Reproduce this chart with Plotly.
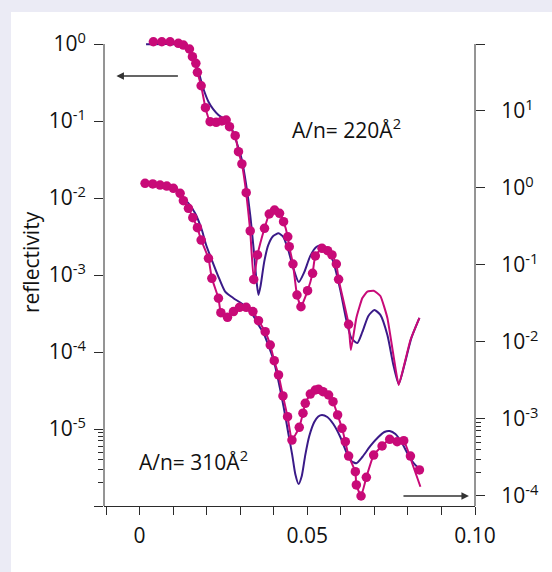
import plotly.graph_objects as go

# ---- measured reflectivity, A/n = 220 A^2 (left axis) ----
top_q = [0.00412, 0.00663, 0.00910, 0.01158, 0.01307, 0.01487, 0.01576, 0.01678, 0.01725, 0.01836,
         0.01964, 0.02104, 0.02284, 0.02454, 0.02582, 0.02681, 0.02851, 0.02949, 0.03051, 0.03179,
         0.03299, 0.03403, 0.03516, 0.03725, 0.03866, 0.04024, 0.04173, 0.04293, 0.04418, 0.04463,
         0.04573, 0.04693, 0.04812, 0.05009, 0.05158, 0.05239, 0.05439, 0.05606, 0.05737, 0.05866,
         0.05934, 0.06233]
top_r = [1.07, 1.07, 1.07, 1.02, 0.97, 0.861, 0.684, 0.561, 0.429, 0.287,
         0.149, 0.098, 0.0962, 0.100, 0.103, 0.0843, 0.0644, 0.0399, 0.0277, 0.01173,
         0.00373, 0.000875, 0.00182, 0.00404, 0.00620, 0.00698, 0.00633, 0.00492, 0.00314, 0.00233,
         0.00139, 0.000550, 0.000387, 0.000625, 0.00105, 0.00177, 0.00222, 0.00207, 0.00182, 0.00139,
         0.000879, 0.000229]

# fitted model (magenta line), 220 A^2
top_fit_q = top_q + [0.06299, 0.06463, 0.06642, 0.06791, 0.06979, 0.07179, 0.07388, 0.07567,
                     0.07725, 0.07866, 0.08075, 0.08343]
top_fit_r = top_r + [1.06e-4, 2.77e-4, 5.02e-4, 6.1e-4, 6.25e-4, 5.33e-4, 2.77e-4, 9.14e-5,
                     3.73e-5, 6.19e-5, 1.43e-4, 2.77e-4]

# reference model (dark blue line), 220 A^2
top_model_q = [0.00194, 0.0106, 0.01269, 0.01448, 0.01597, 0.01746, 0.01896, 0.02054, 0.02194, 0.02352,
               0.02522, 0.02701, 0.02901, 0.03051, 0.03179, 0.03299, 0.03418, 0.03493, 0.03546, 0.03612,
               0.03716, 0.03836, 0.03985, 0.04143, 0.04284, 0.04433, 0.04582, 0.04746, 0.04910, 0.05090,
               0.05269, 0.05433, 0.05597, 0.05776, 0.05985, 0.06164, 0.06313, 0.06493, 0.06642, 0.06821,
               0.07000, 0.07179, 0.07388, 0.07567, 0.07725, 0.07896, 0.08104, 0.08343]
top_model_r = [0.99, 0.99, 0.94, 0.836, 0.678, 0.459, 0.268, 0.178, 0.143, 0.120,
               0.106, 0.0887, 0.0518, 0.0312, 0.01476, 0.00601, 0.00182, 0.000787, 0.000550, 0.000741,
               0.00148, 0.00245, 0.00321, 0.00348, 0.00312, 0.00211, 0.00123, 0.000811, 0.00109, 0.00177,
               0.00231, 0.00245, 0.00218, 0.00148, 0.000638, 0.000260, 0.000152, 0.000131, 0.000182, 0.000294,
               0.000351, 0.000303, 0.000166, 6.78e-5, 3.84e-5, 6.78e-5, 1.52e-4, 2.77e-4]

# ---- measured reflectivity, A/n = 310 A^2 (right axis) ----
bot_q = [0.00164, 0.00394, 0.00612, 0.00812, 0.01009, 0.01209, 0.01307, 0.01457, 0.01588, 0.01725,
         0.01836, 0.02054, 0.02155, 0.02352, 0.02424, 0.02621, 0.02800, 0.02979, 0.03179, 0.03379,
         0.03546, 0.03746, 0.03896, 0.04015, 0.04143, 0.04275, 0.04412, 0.04543, 0.04761, 0.04872,
         0.04940, 0.05090, 0.05239, 0.05337, 0.05469, 0.05636, 0.05767, 0.05904, 0.06036, 0.06134,
         0.06233, 0.06433, 0.06463, 0.06603, 0.06761, 0.06979, 0.07230, 0.07457, 0.07678, 0.07875,
         0.08075, 0.08343]
bot_r = [1.15, 1.13, 1.09, 1.06, 0.99, 0.853, 0.684, 0.545, 0.411, 0.305,
         0.211, 0.122, 0.0671, 0.0370, 0.0240, 0.0209, 0.0248, 0.0282, 0.0282, 0.0248,
         0.0189, 0.0136, 0.00914, 0.00571, 0.00373, 0.00199, 0.00107, 0.000533, 0.000780, 0.00119,
         0.00160, 0.00211, 0.00238, 0.00243, 0.00226, 0.00205, 0.00168, 0.00113, 0.000757, 0.000507,
         0.000330, 0.000207, 0.000139, 0.000100, 0.000175, 0.000340, 0.000446, 0.000544, 0.000507, 0.000522,
         0.000330, 0.000218]

# fitted model (magenta line), 310 A^2
bot_fit_q = bot_q[:50] + [0.08075, 0.08373]
bot_fit_r = bot_r[:50] + [3.09e-4, 1.32e-4]

# reference model (dark blue line), 310 A^2
bot_model_q = [0.00066, 0.00761, 0.0097, 0.01209, 0.01448, 0.01657, 0.01857, 0.01985, 0.02155, 0.02343,
               0.02552, 0.02791, 0.03099, 0.03358, 0.03546, 0.03696, 0.03836, 0.03994, 0.04134, 0.04293,
               0.04433, 0.04552, 0.04642, 0.04740, 0.04836, 0.04940, 0.05060, 0.05209, 0.05328, 0.05439,
               0.05597, 0.05776, 0.05985, 0.06164, 0.06313, 0.06463, 0.06642, 0.06881, 0.07119, 0.07299,
               0.07457, 0.07627, 0.07806, 0.08015, 0.08164, 0.08322]
bot_model_r = [1.13, 1.09, 1.03, 0.811, 0.639, 0.469, 0.285, 0.182, 0.116, 0.0719,
               0.0450, 0.0373, 0.0303, 0.0231, 0.0166, 0.0131, 0.00914, 0.00583, 0.00321, 0.00145,
               0.000658, 0.000340, 0.000193, 0.000143, 0.000182, 0.000340, 0.000601, 0.000914, 0.00108, 0.00113,
               0.00106, 0.000861, 0.000583, 0.000372, 0.000285, 0.000266, 0.000321, 0.000446, 0.000583, 0.000678,
               0.000698, 0.000638, 0.000502, 0.000340, 0.000269, 0.000229]

# ---- axes ----
x_ticks = [-0.01, 0.0, 0.01, 0.02, 0.03, 0.04, 0.05, 0.06, 0.07, 0.08, 0.09, 0.10]
x_labels = ["", "0", "", "", "", "", "0.05", "", "", "", "", "0.10"]
left_ticks = [1, 1e-1, 1e-2, 1e-3, 1e-4, 1e-5, 1e-6]
left_labels = ["10<sup>0</sup>", "10<sup>-1</sup>", "10<sup>-2</sup>", "10<sup>-3</sup>",
               "10<sup>-4</sup>", "10<sup>-5</sup>", ""]
left_minor = [2e-6, 3e-6, 4e-6, 5e-6, 6e-6, 7e-6, 8e-6, 9e-6]
right_ticks = [74.1, 10, 1, 1e-1, 1e-2, 1e-3, 1e-4]
right_labels = ["", "10<sup>1</sup>", "10<sup>0</sup>", "10<sup>-1</sup>", "10<sup>-2</sup>",
                "10<sup>-3</sup>", "10<sup>-4</sup>"]
right_minor = [2e-4, 3e-4, 4e-4, 5e-4, 6e-4, 7e-4, 8e-4, 9e-4]

# log ranges (a little headroom above 10^0 for the plateau points)
LEFT_RANGE = [-6, 0.039]
RIGHT_RANGE = [-4.13, 1.909]
AXIS_TOP = (0 - LEFT_RANGE[0]) / (LEFT_RANGE[1] - LEFT_RANGE[0])   # paper y of 10^0

PINK = "#c80a78"
BLUE = "#3a1a88"
AXIS = "#2b2b2b"
FONT = "Open Sans"

W, H = 552, 572
M_L, M_R, M_T, M_B = 104, 77, 41, 66
PLOT_W = W - M_L - M_R
PLOT_H = H - M_T - M_B
BOTTOM = H - M_B


def px_x(px):
    """pixel column -> paper x"""
    return (px - M_L) / PLOT_W


def px_y(py):
    """pixel row -> paper y"""
    return (BOTTOM - py) / PLOT_H


fig = go.Figure()

# 220 A^2 set on the left axis
fig.add_trace(go.Scatter(x=top_model_q, y=top_model_r, mode="lines", yaxis="y",
                         line=dict(color=BLUE, width=2, shape="spline", smoothing=0.6)))
fig.add_trace(go.Scatter(x=top_fit_q, y=top_fit_r, mode="lines", yaxis="y",
                         line=dict(color=PINK, width=2, shape="spline", smoothing=0.4)))
fig.add_trace(go.Scatter(x=top_q, y=top_r, mode="markers", yaxis="y", cliponaxis=False,
                         marker=dict(color=PINK, size=9.5)))

# 310 A^2 set on the right axis
fig.add_trace(go.Scatter(x=bot_model_q, y=bot_model_r, mode="lines", yaxis="y2",
                         line=dict(color=BLUE, width=2, shape="spline", smoothing=0.6)))
fig.add_trace(go.Scatter(x=bot_fit_q, y=bot_fit_r, mode="lines", yaxis="y2",
                         line=dict(color=PINK, width=2, shape="spline", smoothing=0.4)))
fig.add_trace(go.Scatter(x=bot_q, y=bot_r, mode="markers", yaxis="y2", cliponaxis=False,
                         marker=dict(color=PINK, size=9.5)))

tickfont = dict(family=FONT, size=21, color="#111")

fig.update_layout(
    width=W, height=H, autosize=False,
    margin=dict(l=M_L, r=M_R, t=M_T, b=M_B, pad=0),
    paper_bgcolor="#ebebf5",
    plot_bgcolor="white",
    showlegend=False,
    xaxis=dict(range=[-0.0106, 0.1], tickmode="array", tickvals=x_ticks, ticktext=x_labels,
               ticks="outside", ticklen=8, tickwidth=1, tickcolor=AXIS,
               showline=True, linecolor=AXIS, linewidth=1, showgrid=False, zeroline=False,
               tickfont=tickfont, ticklabelstandoff=3),
    yaxis=dict(type="log", range=LEFT_RANGE, tickmode="array", tickvals=left_ticks, ticktext=left_labels,
               ticks="outside", ticklen=9, tickwidth=1, tickcolor=AXIS,
               minor=dict(tickvals=left_minor, ticks="outside", ticklen=5, tickcolor=AXIS, showgrid=False),
               showline=False, showgrid=False, zeroline=False,
               tickfont=tickfont, ticklabelstandoff=4),
    yaxis2=dict(type="log", range=RIGHT_RANGE, overlaying="y", side="right",
                tickmode="array", tickvals=right_ticks, ticktext=right_labels,
                ticks="outside", ticklen=9, tickwidth=1, tickcolor=AXIS,
                minor=dict(tickvals=right_minor, ticks="outside", ticklen=5, tickcolor=AXIS, showgrid=False),
                showline=False, showgrid=False, zeroline=False,
                tickfont=tickfont, ticklabelstandoff=12),
)

# white panel behind the chart
fig.add_shape(type="rect", xref="paper", yref="paper", layer="below",
              x0=px_x(11), x1=px_x(W), y0=px_y(H), y1=px_y(12),
              fillcolor="white", line=dict(width=0))

# vertical axis lines, from the bottom up to the 10^0 (left) level
for xpos in (0, 1):
    fig.add_shape(type="line", xref="paper", yref="paper", x0=xpos, x1=xpos, y0=0, y1=AXIS_TOP,
                  line=dict(color=AXIS, width=1))

label_font = dict(family=FONT, size=21, color="#111")
fig.add_annotation(text="reflectivity", xref="paper", yref="paper", x=px_x(31), y=px_y(262),
                   xanchor="center", yanchor="middle", textangle=-90, showarrow=False, font=label_font)
fig.add_annotation(text="A/n= 220Å<sup>2</sup>", xref="paper", yref="paper", x=px_x(290), y=px_y(128),
                   xanchor="left", yanchor="middle", showarrow=False, font=label_font)
fig.add_annotation(text="A/n= 310Å<sup>2</sup>", xref="paper", yref="paper", x=px_x(137), y=px_y(460),
                   xanchor="left", yanchor="middle", showarrow=False, font=label_font)

# arrows pointing to the axis each data set belongs to
fig.add_annotation(x=-0.0069, y=-0.4156, xref="x", yref="y", text="", showarrow=True,
                   ax=63, ay=0, arrowhead=2, arrowsize=1, arrowwidth=1.5, arrowcolor="#333")
fig.add_annotation(x=0.0982, y=-4.0, xref="x", yref="y2", text="", showarrow=True,
                   ax=-67, ay=0, arrowhead=2, arrowsize=1, arrowwidth=1.5, arrowcolor="#333")

fig.write_html("out.html")
